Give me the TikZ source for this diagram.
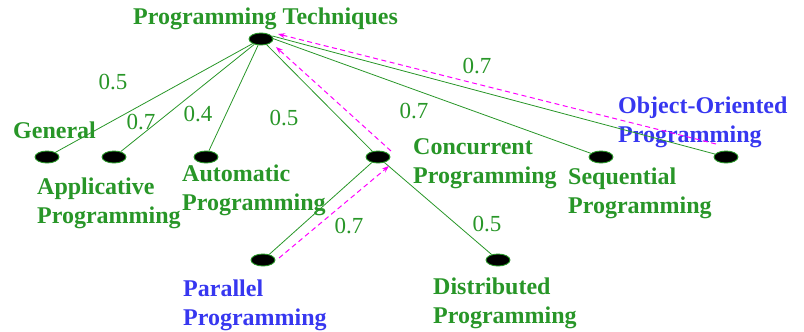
\documentclass[tikz,border=0pt]{standalone}
\usepackage{fontspec}
\setmainfont{Liberation Serif}
\usetikzlibrary{arrows.meta,calc,shapes.geometric}
\definecolor{edgegreen}{RGB}{40,150,40}
\definecolor{labelblue}{RGB}{55,55,240}
\definecolor{linkmag}{RGB}{255,0,255}

\begin{document}
\begin{tikzpicture}[x=1pt,y=-1pt,
  leaf/.style={ellipse, draw=edgegreen, fill=black, line width=0.9pt,
    minimum width=24pt, minimum height=12pt, inner sep=0},
  % multi-line labels are anchored at the baseline of their last line
  topic/.style={font=\fontsize{24}{28.5}\selectfont\bfseries, text=edgegreen,
    anchor=base west, inner sep=0, align=left},
  other/.style={topic, text=labelblue},
  weight/.style={font=\fontsize{23}{26}\selectfont, text=edgegreen, inner sep=0},
  tree/.style={draw=edgegreen, line width=0.8pt},
  link/.style={draw=linkmag, line width=1pt, dash pattern=on 5pt off 3.5pt,
    -{Stealth[length=7pt,width=5pt]}}
]
\useasboundingbox (0,0) rectangle (804,332);

% tree nodes
\node[leaf] (root) at (261,39) {};
\node[leaf] (gen)  at (47,157) {};
\node[leaf] (app)  at (114,157) {};
\node[leaf] (auto) at (206,157) {};
\node[leaf] (conc) at (378,157) {};
\node[leaf] (seq)  at (601,157) {};
\node[leaf] (oo)   at (726,157) {};
\node[leaf] (par)  at (263,260) {};
\node[leaf] (dist) at (498,260) {};

% labels
\node[topic] (tRoot) at (133,24) {Programming Techniques};
\node[topic] (tGen)  at (13,138) {General};
\node[topic] (tApp)  at (37,223) {Applicative\\Programming};
\node[topic] (tAuto) at (182,210) {Automatic\\Programming};
\node[topic] (tConc) at (413,183) {Concurrent\\Programming};
\node[topic] (tSeq)  at (568,213) {Sequential\\Programming};
\node[other] (tOO)   at (618,142) {Object-Oriented\\Programming};
\node[other] (tPar)  at (183,325) {Parallel\\Programming};
\node[topic] (tDist) at (433,323) {Distributed\\Programming};

% tree edges
\draw[tree] (root) -- (gen);
\draw[tree] (root) -- (app);
\draw[tree] (root) -- (auto);
\draw[tree] (root) -- (conc);
\draw[tree] ($(root.east)+(-2,-1)$) -- (seq);
\draw[tree] ($(root.east)+(-1,-3)$) -- (oo);
\draw[tree] (conc) -- (par);
\draw[tree] (conc) -- (dist);

% edge weights
\node[weight] (wGen)  at (113,82)  {0.5};
\node[weight] (wApp)  at (141,122) {0.7};
\node[weight] (wAuto) at (198,114) {0.4};
\node[weight] (wConc) at (284,118) {0.5};
\node[weight] (wSeq)  at (414,111) {0.7};
\node[weight] (wOO)   at (477,66)  {0.7};
\node[weight] (wPar)  at (349,226) {0.7};
\node[weight] (wDist) at (487,224) {0.5};

% dashed links
\coordinate (ooOut)   at ($(oo)+(-10,-13)$);
\coordinate (rootInA) at ($(root)+(17,-5)$);
\coordinate (concOut) at ($(conc)+(13,-6)$);
\coordinate (rootInB) at ($(root)+(15,8)$);
\coordinate (parOut)  at ($(par)+(16,-2)$);
\coordinate (concIn)  at ($(conc)+(11,9)$);
\draw[link] (ooOut) -- (rootInA);
\draw[link] (concOut) -- (rootInB);
\draw[link] (parOut) -- (concIn);
\end{tikzpicture}
\end{document}
